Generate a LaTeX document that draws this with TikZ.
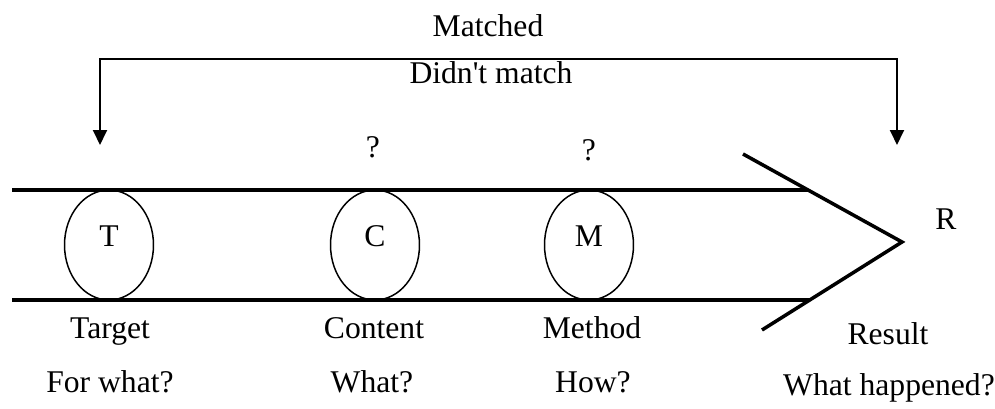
\documentclass[tikz,border=0pt]{standalone}
\usepackage{fontspec}
\setmainfont{Liberation Serif}
\usepackage{tikz}
\usetikzlibrary{arrows.meta, positioning, shapes.geometric}

\begin{document}
\begin{tikzpicture}[
      x=0.02cm, y=-0.02cm,
      stage/.style={draw, ellipse, line width=0.85pt, minimum width=1.78cm, minimum height=2.2cm, inner sep=0pt, text depth=0.36cm, font=\fontsize{18}{21}\selectfont},
      label/.style={font=\fontsize{18}{21}\selectfont, inner sep=1pt, anchor=base},
      rail/.style={line width=2pt},
      feedback/.style={line width=1.1pt, {Triangle[width=0.28cm, length=0.3cm]}-{Triangle[width=0.28cm, length=0.3cm]}}
    ]
      \useasboundingbox (0,0) rectangle (995,409);

      % Stages on the pipe
      \node[stage] (T) at (109,245) {T};
      \node[stage] (C) at (375,245) {C};
      \node[stage] (M) at (589,245) {M};
      \node[label] (R) at (946,229) {R};

      % Pipe rails and arrow head
      \coordinate (railTL) at (12,190);
      \coordinate (railTR) at (808,190);
      \coordinate (railBL) at (12,300);
      \coordinate (railBR) at (809,300);
      \coordinate (headU) at (743,154);
      \coordinate (headTip) at (902,242);
      \coordinate (headD) at (762,330);
      \draw[rail] (railTL) -- (railTR);
      \draw[rail] (railBL) -- (railBR);
      \draw[rail] (headU) -- (headTip) -- (headD);

      % Feedback bracket
      \coordinate (backL) at (100,145);
      \coordinate (topL) at (100,59);
      \coordinate (topR) at (897,59);
      \coordinate (backR) at (897,145);
      \draw[feedback] (backL) -- (topL) -- (topR) -- (backR);
      \node[label] (matched) at (488,36) {Matched};
      \node[label] (nomatch) at (491,83) {Didn\textquotesingle t match};

      % Open questions
      \node[label] (qC) at (373,157) {?};
      \node[label] (qM) at (589,160) {?};

      % Names and questions below
      \node[label] (target) at (110,338) {Target};
      \node[label] (content) at (374,338) {Content};
      \node[label] (method) at (592,338) {Method};
      \node[label] (result) at (888,344) {Result};
      \node[label] (forwhat) at (110,392) {For what?};
      \node[label] (what) at (372,392) {What?};
      \node[label] (how) at (593,392) {How?};
      \node[label] (happened) at (889,395) {What happened?};
    \end{tikzpicture}
\end{document}
